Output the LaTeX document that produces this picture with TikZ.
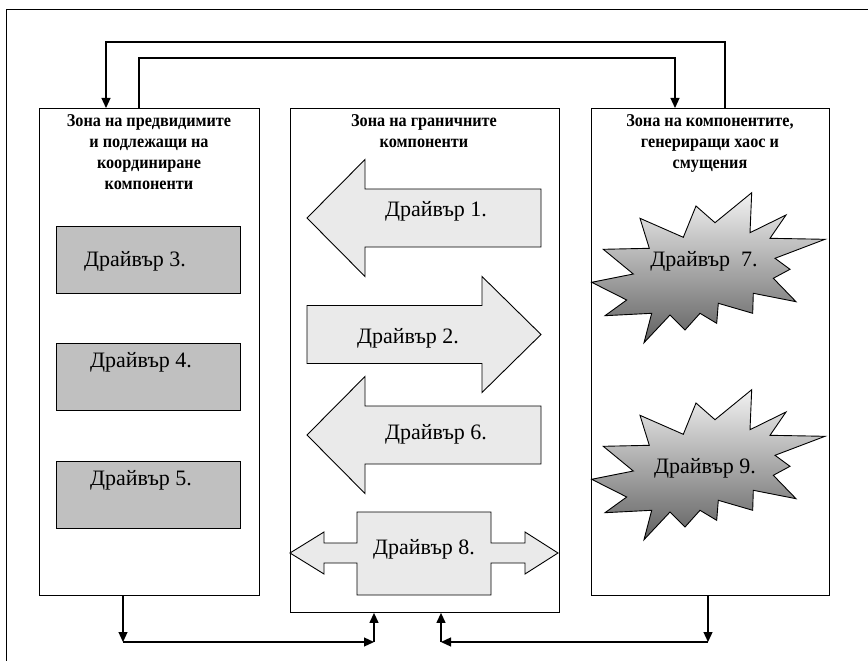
\documentclass[tikz,border=0pt]{standalone}
\usepackage{fontspec}
\setmainfont{Liberation Serif}
\newfontfamily\titlefont{Liberation Serif Bold}[FakeStretch=0.9]
\usepackage{xcolor}
\usetikzlibrary{arrows.meta,calc}
\definecolor{drivergray}{HTML}{C0C0C0}
\definecolor{arrowgray}{HTML}{EAEAEA}

\begin{document}
\begin{tikzpicture}[x=1pt, y=-1pt,
  zone/.style={draw, line width=0.9pt, inner sep=0pt, anchor=north west},
  ztitle/.style={anchor=north, align=center, inner sep=0pt, font=\titlefont\fontsize{18}{21}\selectfont},
  driver/.style={draw, fill=drivergray, line width=0.9pt, minimum width=184pt, minimum height=67pt, inner sep=0pt},
  dtext/.style={inner sep=0pt, font=\fontsize{22}{24}\selectfont},
  bigarrow/.style={draw, fill=arrowgray, line width=0.9pt, line join=miter},
  burst/.style={draw, line width=0.9pt, top color=black!5, bottom color=black!62},
  conn/.style={line width=1.2pt, -{Triangle[length=10pt,width=9pt]}},
  ]
  \useasboundingbox (0,0) rectangle (868,661);
  \draw[line width=0.8pt] (6.6,661) -- (6.6,9) -- (868,9);

  % zones
  \node[zone, minimum width=220pt, minimum height=487pt] (zl) at (39,108) {};
  \node[zone, minimum width=269pt, minimum height=504pt] (zc) at (290,108) {};
  \node[zone, minimum width=238pt, minimum height=487pt] (zr) at (591,108) {};
  \node[ztitle] (tl) at (149,114) {Зона на предвидимите\\и подлежащи на\\координиране\\компоненти};
  \node[ztitle] (tc) at (424,114) {Зона на граничните\\компоненти};
  \node[ztitle] (tr) at (710,114) {Зона на компонентите,\\генериращи хаос и\\смущения};

  % left zone
  \node[driver] (d3) at (148,259.5) {};
  \node[driver] (d4) at (148,377) {};
  \node[driver] (d5) at (148,494.5) {};
  \node[dtext] (t3) at (135,261) {Драйвър 3.};
  \node[dtext] (t4) at (141,362) {Драйвър 4.};
  \node[dtext] (t5) at (141,480) {Драйвър 5.};

  % middle zone
  \draw[bigarrow] (307,218) -- (365,159.5) -- (365,189) -- (541,189) -- (541,247) -- (365,247) -- (365,276.5) -- cycle;
  \draw[bigarrow] (541,334.5) -- (482,276.5) -- (482,305.5) -- (307,305.5) -- (307,363.5) -- (482,363.5) -- (482,392.5) -- cycle;
  \draw[bigarrow] (307,435) -- (365,376.5) -- (365,406) -- (541,406) -- (541,464) -- (365,464) -- (365,493.5) -- cycle;
  \draw[bigarrow] (290,553) -- (324,532) -- (324,543) -- (357,543) -- (357,512) -- (491,512) -- (491,543)
    -- (525,543) -- (525,532) -- (558,553) -- (525,574) -- (525,563) -- (491,563) -- (491,595)
    -- (357,595) -- (357,563) -- (324,563) -- (324,574) -- cycle;
  \node[dtext] (t1) at (436,211) {Драйвър 1.};
  \node[dtext] (t2) at (408,338) {Драйвър 2.};
  \node[dtext] (t6) at (436,434) {Драйвър 6.};
  \node[dtext] (t8) at (424,549) {Драйвър 8.};

  % right zone
  \foreach \dy in {0,197} {
    \shade[burst, shift={(0,\dy)}] (603.3,249.3) -- (649.3,248.3) -- (640,218.3) -- (683.3,237.3) -- (696,206)
      -- (715,222.7) -- (751.7,192.7) -- (750,232.7) -- (786,215) -- (770,238.3) -- (825,239.3)
      -- (775,258.3) -- (790,269.3) -- (773.3,278.3) -- (796,301.7) -- (753.3,293.3) -- (752.7,313.3)
      -- (718.3,303.3) -- (716.7,323.3) -- (700,313.3) -- (685,330) -- (670,315) -- (644,342.7)
      -- (651.7,313.3) -- (605,315.7) -- (626.7,300) -- (591.7,282.3) -- (633.3,274) -- cycle;
  }
  \node[dtext] (t7) at (704,261) {Драйвър\ \ 7.};
  \node[dtext] (t9) at (705,468) {Драйвър 9.};

  % connectors
  \coordinate (ol) at (106,42);
  \coordinate (or) at (725,42);
  \coordinate (il) at (139,58);
  \coordinate (ir) at (675,58);
  \draw[conn] (zr.north -| or) -- (or) -- (ol) -- (zl.north -| ol);
  \draw[conn] (zl.north -| il) -- (il) -- (ir) -- (zr.north -| ir);

  \coordinate (bl) at (123,642);
  \coordinate (bm1) at (374,642);
  \coordinate (bm2) at (441,642);
  \coordinate (br) at (708,642);
  \draw[conn] (zl.south -| bl) -- (bl);
  \draw[conn] (bl) -- (bm1);
  \draw[conn] (bm1) -- (zc.south -| bm1);
  \draw[conn] (zr.south -| br) -- (br);
  \draw[conn] (br) -- (bm2);
  \draw[conn] (bm2) -- (zc.south -| bm2);
\end{tikzpicture}
\end{document}
